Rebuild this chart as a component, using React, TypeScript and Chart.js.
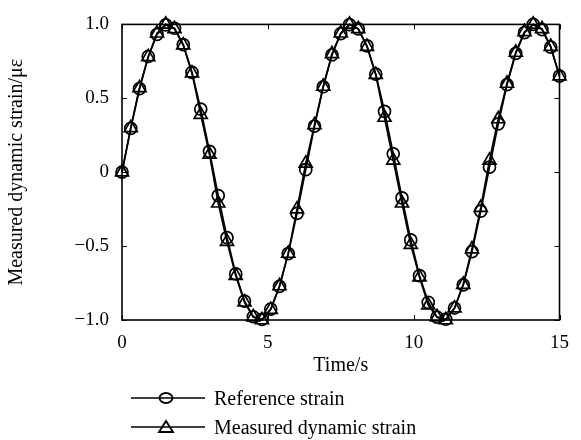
import React, { useEffect, useRef } from "react";
import { Chart, registerables } from "chart.js";

Chart.register(...registerables);

const FONT = "'Liberation Serif', 'Times New Roman', Times, serif";

const time = [
  0, 0.3, 0.6, 0.9, 1.2, 1.5, 1.8, 2.1, 2.4, 2.7, 3.0, 3.3, 3.6, 3.9, 4.2, 4.5, 4.8,
  5.1, 5.4, 5.7, 6.0, 6.3, 6.6, 6.9, 7.2, 7.5, 7.8, 8.1, 8.4, 8.7, 9.0, 9.3, 9.6,
  9.9, 10.2, 10.5, 10.8, 11.1, 11.4, 11.7, 12.0, 12.3, 12.6, 12.9, 13.2, 13.5,
  13.8, 14.1, 14.4, 14.7, 15.0,
];

const referenceStrain = [
  0, 0.296, 0.565, 0.783, 0.932, 0.997, 0.974, 0.863, 0.675, 0.427, 0.141, -0.158,
  -0.443, -0.688, -0.872, -0.978, -0.996, -0.926, -0.773, -0.551, -0.279, 0.017,
  0.312, 0.578, 0.794, 0.938, 0.999, 0.97, 0.855, 0.663, 0.412, 0.124, -0.174,
  -0.458, -0.7, -0.88, -0.981, -0.995, -0.919, -0.762, -0.537, -0.263, 0.034,
  0.327, 0.592, 0.804, 0.944, 1.0, 0.965, 0.846, 0.65,
];

const measuredStrain = [
  0, 0.3, 0.57, 0.78, 0.94, 1.0, 0.97, 0.86, 0.67, 0.39, 0.12, -0.21, -0.47, -0.7,
  -0.88, -0.98, -1.0, -0.93, -0.77, -0.55, -0.25, 0.06, 0.32, 0.58, 0.8, 0.94, 1.0,
  0.97, 0.85, 0.66, 0.37, 0.08, -0.21, -0.49, -0.71, -0.9, -0.98, -1.0, -0.92,
  -0.76, -0.52, -0.24, 0.08, 0.36, 0.6, 0.81, 0.95, 1.0, 0.97, 0.85, 0.65,
];

const xTickValues = [0, 5, 10, 15];
const xTickLabels = ["0", "5", "10", "15"];
const yTickValues = [-1, -0.5, 0, 0.5, 1];
const yTickLabels = ["\u22121.0", "\u22120.5", "0", "0.5", "1.0"];
const seriesNames = ["Reference strain", "Measured dynamic strain"];
const xTitle = "Time/s";
const yTitle = "Measured dynamic strain/\u03bc\u03b5";

const framePlugin = {
  id: "frame",
  beforeDatasetsDraw(chart: any) {
    const { ctx, chartArea: a, scales } = chart;
    ctx.save();
    ctx.strokeStyle = "#000";
    ctx.lineWidth = 1.6;
    ctx.strokeRect(a.left, a.top, a.right - a.left, a.bottom - a.top);
    const L = 5;
    ctx.lineWidth = 1;
    ctx.beginPath();
    xTickValues.forEach((v) => {
      const px = Math.round(scales.x.getPixelForValue(v)) + 0.5;
      ctx.moveTo(px, a.bottom);
      ctx.lineTo(px, a.bottom - L);
      ctx.moveTo(px, a.top);
      ctx.lineTo(px, a.top + L);
    });
    yTickValues.forEach((v) => {
      const py = Math.round(scales.y.getPixelForValue(v)) + 0.5;
      ctx.moveTo(a.left, py);
      ctx.lineTo(a.left + L, py);
      ctx.moveTo(a.right, py);
      ctx.lineTo(a.right - L, py);
    });
    ctx.stroke();
    ctx.restore();
  },
};

function LegendRow({ top, kind, text }: { top: number; kind: string; text: string }) {
  return (
    <div
      style={{
        position: "absolute",
        left: 130,
        top: top - 12,
        height: 24,
        display: "flex",
        alignItems: "center",
        fontFamily: FONT,
        fontSize: 20,
        color: "#000",
        whiteSpace: "nowrap",
      }}
    >
      <svg width={76} height={24} style={{ display: "block" }}>
        <line x1={1} y1={12} x2={75} y2={12} stroke="#000" strokeWidth={1.6} />
        {kind === "circle" ? (
          <ellipse cx={36} cy={12} rx={6.5} ry={5} fill="none" stroke="#000" strokeWidth={1.9} />
        ) : (
          <polygon points="36,6 43,17 29,17" fill="none" stroke="#000" strokeWidth={1.9} />
        )}
      </svg>
      <span style={{ marginLeft: 8 }}>{text}</span>
    </div>
  );
}

export default function App() {
  const canvasRef = useRef<HTMLCanvasElement | null>(null);

  useEffect(() => {
    const canvas = canvasRef.current;
    if (!canvas) return;
    const tickFont = { family: FONT, size: 19 };
    const titleFont = { family: FONT, size: 20 };
    const chart = new Chart(canvas, {
      type: "line",
      data: {
        datasets: [
          {
            label: seriesNames[0],
            data: time.map((t, i) => ({ x: t, y: referenceStrain[i] })),
            borderColor: "#000",
            borderWidth: 1.7,
            pointStyle: "circle",
            pointRadius: 6,
            pointBorderWidth: 1.7,
            pointBorderColor: "#000",
            pointBackgroundColor: "rgba(0,0,0,0)",
            tension: 0,
            clip: false,
          } as any,
          {
            label: seriesNames[1],
            data: time.map((t, i) => ({ x: t, y: measuredStrain[i] })),
            borderColor: "#000",
            borderWidth: 1.7,
            pointStyle: "triangle",
            pointRadius: 7.5,
            pointBorderWidth: 1.7,
            pointBorderColor: "#000",
            pointBackgroundColor: "rgba(0,0,0,0)",
            tension: 0,
            clip: false,
          } as any,
        ],
      },
      options: {
        animation: false,
        responsive: false,
        devicePixelRatio: 1,
        layout: { padding: { top: 21, right: 12, left: 0, bottom: 0 } },
        plugins: { legend: { display: false }, tooltip: { enabled: false } },
        scales: {
          x: {
            type: "linear",
            min: 0,
            max: 15,
            afterBuildTicks: (s: any) => {
              s.ticks = xTickValues.map((v) => ({ value: v }));
            },
            afterFit: (s: any) => {
              s.height = 120;
            },
            ticks: {
              callback: (v: any) => xTickLabels[xTickValues.indexOf(Number(v))],
              font: tickFont,
              color: "#000",
              padding: 12,
              maxRotation: 0,
              autoSkip: false,
            },
            grid: { display: false, drawTicks: false },
            border: { display: false },
            title: {
              display: true,
              text: xTitle,
              font: titleFont,
              color: "#000",
              padding: { top: 0, bottom: 62 },
            },
          },
          y: {
            type: "linear",
            min: -1,
            max: 1,
            afterBuildTicks: (s: any) => {
              s.ticks = yTickValues.map((v) => ({ value: v }));
            },
            afterFit: (s: any) => {
              s.width = 122;
            },
            ticks: {
              callback: (v: any) => yTickLabels[yTickValues.indexOf(Number(v))],
              font: tickFont,
              color: "#000",
              padding: 13,
              autoSkip: false,
            },
            grid: { display: false, drawTicks: false },
            border: { display: false },
            title: {
              display: true,
              text: yTitle,
              font: titleFont,
              color: "#000",
              padding: { top: 5, bottom: 0 },
            },
          },
        },
      } as any,
      plugins: [framePlugin],
    });
    return () => chart.destroy();
  }, []);

  return (
    <div
      style={{
        position: "fixed",
        left: 0,
        top: 0,
        width: 581,
        height: 440,
        background: "#fff",
      }}
    >
      <canvas
        ref={canvasRef}
        width={581}
        height={440}
        style={{ position: "absolute", left: 0, top: 0, width: 581, height: 440 }}
      />
      <LegendRow top={398} kind="circle" text={seriesNames[0]} />
      <LegendRow top={427} kind="triangle" text={seriesNames[1]} />
    </div>
  );
}
